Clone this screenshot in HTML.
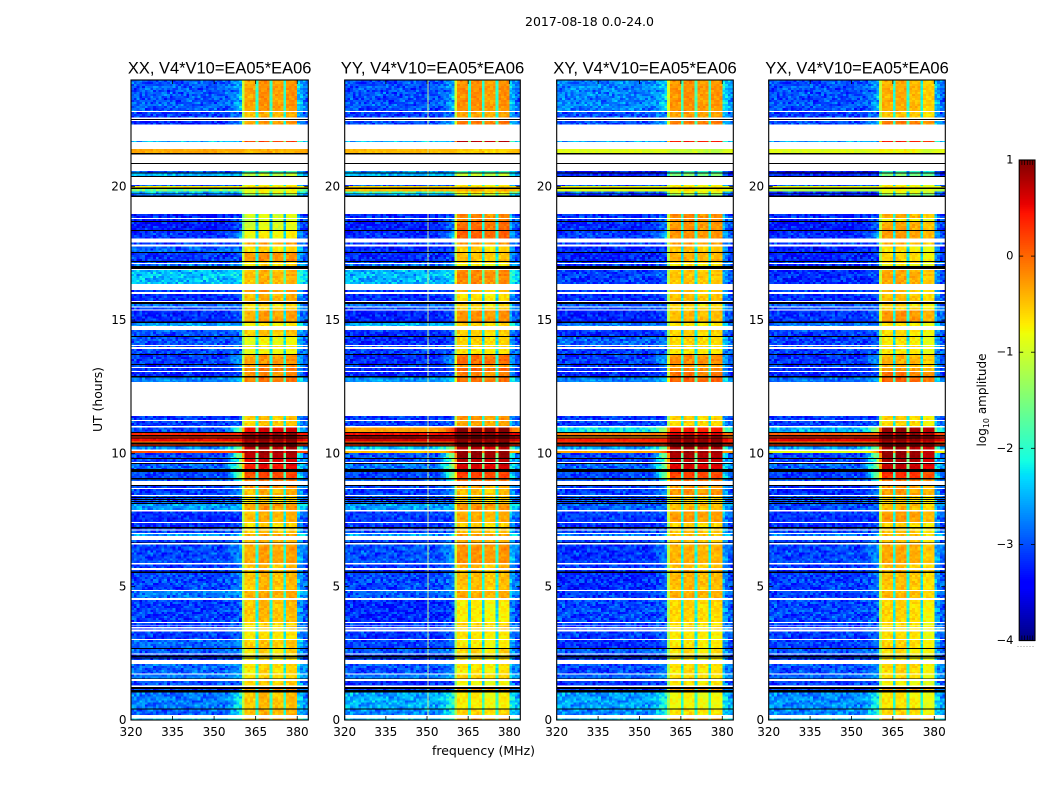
<!DOCTYPE html>
<html lang="en">
<head>
<meta charset="utf-8">
<title>2017-08-18 0.0-24.0</title>
<style>
html,body{margin:0;padding:0;background:#fff;width:1050px;height:800px;overflow:hidden}
svg{display:block}
text{font-family:"DejaVu Sans","Liberation Sans",sans-serif;fill:#000}
</style>
</head>
<body>
<svg id="figure" xmlns="http://www.w3.org/2000/svg" width="1050" height="800" viewBox="0 0 1050 800">
  <rect x="0" y="0" width="1050" height="800" fill="#fff"/>
  <text x="589.5" y="26" font-size="12.6" text-anchor="middle" textLength="129" lengthAdjust="spacingAndGlyphs">2017-08-18 0.0-24.0</text>
  <text x="483.5" y="755" font-size="12.6" text-anchor="middle" textLength="103" lengthAdjust="spacingAndGlyphs">frequency (MHz)</text>
  <text transform="translate(102,399.5) rotate(-90)" font-size="12.6" text-anchor="middle" textLength="65" lengthAdjust="spacingAndGlyphs">UT (hours)</text>
  <text transform="translate(986,400) rotate(-90)" font-size="12" text-anchor="middle">log<tspan font-size="8" dy="3">10</tspan><tspan dy="-3"> amplitude</tspan></text>
  <g id="panels"></g>
  <g id="colorbar"></g>
</svg>
<script>
// ---------- chart data ----------
const panelNames = ['XX', 'YY', 'XY', 'YX'];
const panelTitles = ['XX, V4*V10=EA05*EA06', 'YY, V4*V10=EA05*EA06', 'XY, V4*V10=EA05*EA06', 'YX, V4*V10=EA05*EA06'];
const freqTicks = [320, 335, 350, 365, 380];
const hourTicks = [0, 5, 10, 15, 20];
const colorTicks = [1, 0, -1, -2, -3, -4];
const colorTickLabels = ['1', '0', '\u22121', '\u22122', '\u22123', '\u22124'];
const freqMin = 320;
const freqMax = 384;
const hourMin = 0;
const hourMax = 24;
const levelMin = -4;
const levelMax = 1;

// Time rows: [top of row in UT hours, kind]. D = data, W = flagged (blank), K = black line
const rowEdges = [
[24,'D'],[22.84,'W'],[22.8,'D'],[22.59,'W'],[22.54,'K'],[22.5,'W'],[22.46,'D'],[22.33,'W'],[21.71,'D'],[21.68,'W'],
[21.41,'D'],[21.26,'K'],[21.2,'W'],[20.89,'K'],[20.85,'W'],[20.59,'D'],[20.53,'K'],[20.49,'D'],[20.4,'K'],[20.36,'W'],
[20.06,'D'],[20.03,'D'],[19.97,'K'],[19.91,'D'],[19.82,'D'],[19.75,'K'],[19.72,'D'],[19.66,'K'],[19.62,'W'],[18.98,'D'],
[18.82,'W'],[18.79,'D'],[18.71,'K'],[18.68,'D'],[18.38,'K'],[18.34,'D'],[18.05,'W'],[17.9,'D'],[17.84,'W'],[17.76,'D'],
[17.55,'K'],[17.51,'D'],[17.21,'K'],[17.18,'D'],[17.14,'W'],[17.1,'D'],[17.03,'K'],[16.91,'W'],[16.88,'D'],[16.35,'W'],
[16.13,'D'],[16.05,'W'],[15.98,'D'],[15.71,'W'],[15.68,'K'],[15.6,'D'],[15.5,'W'],[15.46,'D'],[15.39,'W'],[15.35,'D'],
[14.94,'K'],[14.88,'D'],[14.78,'W'],[14.63,'D'],[14.4,'K'],[14.36,'D'],[14.06,'W'],[14.03,'D'],[13.99,'W'],[13.92,'D'],
[13.73,'K'],[13.69,'D'],[13.35,'K'],[13.31,'D'],[13.24,'W'],[13.2,'D'],[13.09,'W'],[13.05,'D'],[12.9,'K'],[12.84,'D'],
[12.68,'W'],[11.4,'D'],[11.25,'W'],[11.21,'D'],[11.03,'W'],[10.96,'D'],[10.8,'K'],[10.76,'D'],[10.68,'K'],[10.64,'D'],
[10.59,'K'],[10.55,'D'],[10.44,'D'],[10.4,'K'],[10.34,'D'],[10.3,'K'],[10.26,'D'],[10.15,'W'],[10.09,'D'],[10.01,'D'],
[9.83,'K'],[9.79,'D'],[9.68,'W'],[9.64,'K'],[9.6,'D'],[9.41,'K'],[9.3,'D'],[9.08,'K'],[9.02,'D'],[8.97,'W'],
[8.81,'K'],[8.78,'D'],[8.7,'W'],[8.66,'D'],[8.44,'W'],[8.4,'D'],[8.36,'K'],[8.33,'D'],[8.29,'K'],[8.25,'D'],
[8.21,'K'],[8.18,'D'],[8.14,'K'],[8.1,'D'],[7.88,'W'],[7.81,'D'],[7.43,'W'],[7.39,'D'],[7.23,'K'],[7.19,'D'],
[7.15,'W'],[7.11,'D'],[7.01,'W'],[6.98,'D'],[6.9,'W'],[6.75,'D'],[6.66,'K'],[6.63,'W'],[6.59,'D'],[5.88,'W'],
[5.84,'D'],[5.7,'W'],[5.63,'D'],[5.56,'K'],[5.52,'D'],[4.88,'W'],[4.84,'D'],[4.58,'W'],[4.5,'D'],[3.68,'W'],
[3.64,'D'],[3.57,'W'],[3.54,'D'],[3.48,'W'],[3.44,'D'],[3.4,'W'],[3.32,'D'],[3.04,'W'],[3,'D'],[2.7,'K'],
[2.66,'D'],[2.5,'W'],[2.46,'D'],[2.41,'K'],[2.37,'D'],[2.35,'K'],[2.3,'D'],[2.25,'W'],[2.1,'D'],[1.75,'W'],
[1.71,'D'],[1.56,'K'],[1.53,'W'],[1.46,'D'],[1.29,'W'],[1.23,'K'],[1.17,'D'],[1.13,'K'],[1.04,'D'],[0.44,'K'],
[0.4,'D'],[0.19,'W'],[0.06,'D'],[0,'END']
];

// log10 amplitude outside the band, one value per data row
const offXX = [-2.95,-3.1,-3.2,-2.5,-.35,-2.9,-2.5,-3,-.7,-1.6,
-2.5,-2.8,-3.25,-3.25,-3.3,-3.15,-3.1,-2.9,-3.15,-3.1,
-2.8,-2.45,-3.1,-3.2,-2.8,-3.1,-3.2,-2.6,-3,-3,
-3,-3.05,-3.1,-3.1,-3.2,-3.2,-2.8,-3.1,-3.1,-3,
.35,.3,.5,-.2,.3,-2.7,.1,-3.1,-3.1,-2.9,
-3.05,-3,-3.1,-3.1,-3,-3,-3,-3,-2.6,-3.2,
-3.2,-3.1,-3.1,-2.6,-3.1,-3.05,-3.1,-3.2,-3.05,-2.8,
-3.1,-3.1,-3.1,-3.1,-3.1,-2.9,-2.95,-3.1,-3.1,-3.1,
-2.9,-2.8,-3,-3.1,-2.8,-2.9,-2.4];
const offYY = [-3,-3.1,-3,-2.5,-.45,-2.6,-2.5,-3,-.6,-.45,
-1.9,-2.6,-3.2,-3.2,-3.25,-3.2,-3.1,-3.2,-3.2,-3.1,
-2.8,-2.5,-3.1,-3.2,-2.8,-3.1,-3.25,-2.5,-3.2,-3.2,
-3,-3.1,-3.2,-3.1,-3.25,-3.2,-2.7,-3.1,-3.1,-.3,
.5,.55,.65,0,.3,-2.4,-.5,-3,-3,-2.8,
-3.05,-3,-3.1,-3.1,-3,-3,-3,-3,-2.6,-3.1,
-3.15,-3.1,-3.1,-2.6,-3.1,-3,-3.1,-3.2,-3.05,-2.95,
-3.2,-3.1,-3.1,-3.1,-3.15,-3.1,-2.95,-3.1,-3.1,-3.1,
-3,-2.8,-3.2,-3.1,-2.55,-2.7,-2.4];
const offXY = [-2.75,-3,-3,-2.6,-.9,-3.3,-3.2,-3,-.8,-.9,
-2.9,-3.2,-3.15,-3.2,-3.2,-3.1,-3.1,-3.2,-3.25,-3.1,
-3.1,-3.1,-3.1,-3.2,-2.9,-3.1,-3.25,-2.8,-3.2,-2.9,
-3,-3.1,-3.1,-3.1,-3.2,-3.2,-2.8,-3.1,-3.1,-2.2,
-.1,-.3,.4,.2,.3,-2.6,-.35,-3.1,-3.1,-2.9,
-3.05,-3,-3.1,-3.1,-3,-3,-3,-3,-2.9,-3.1,
-3.2,-3.1,-3.1,-2.8,-3.1,-3.15,-3.1,-3.2,-3.2,-3.1,
-3.05,-3.1,-3.1,-3.1,-3.1,-3.2,-2.95,-3.1,-3.1,-3.1,
-3.05,-2.9,-3.15,-3.1,-2.6,-2.7,-2.4];
const offYX = [-3,-3.1,-3,-2.6,-.9,-3.4,-3.2,-3,-.8,-1.2,
-3.2,-3.2,-3.2,-3.3,-3.3,-3.2,-3.1,-3.25,-3.25,-3.1,
-3.2,-3.2,-3.1,-3.2,-2.9,-3.1,-3.15,-2.8,-3.1,-3.1,
-3,-3.1,-3.15,-3.1,-3.2,-3.2,-2.9,-3.1,-3.1,-2.5,
.05,.3,.55,-.1,.3,-2.6,-.9,-3.1,-3.1,-2.9,
-3.1,-3,-3.2,-3.2,-3,-3,-3,-3,-3,-3.15,
-3.2,-3.1,-3.1,-2.8,-3.1,-3.05,-3.1,-3.2,-3.1,-3.1,
-3.05,-3.1,-3.1,-3.1,-3.1,-3.1,-2.95,-3.1,-3.1,-3.1,
-3,-2.9,-3.1,-3.1,-2.7,-2.7,-2.4];

// log10 amplitude inside the 360-380 MHz band, one value per data row
const bandXX = [-.25,-.4,-.25,.2,-.4,-1.8,-1.1,-.8,-.6,-.8,
-.8,-1.4,-.9,-1,-.9,-.75,-.3,-.6,-.2,-.6,
-.6,-.4,-.25,-.4,-.6,-.6,-.3,-.7,-.5,-.8,
-.6,-.8,-.25,-.2,-.1,-.2,-.1,-.5,-.5,.6,
.95,.9,1,.7,.95,.8,.9,.8,.6,.5,
.2,-.1,-.2,-.4,-.6,-.6,-.6,-.6,-.25,-.4,
-.6,-.6,-.5,-.3,-.4,-.3,-.45,-.4,-.45,-.35,
-.45,-.6,-.6,-.6,-.65,-.5,-.6,-.7,-.7,-.7,
-.6,-.6,-.55,-.2,-.45,-.4,-.3];
const bandYY = [-.25,-.35,-.1,.7,-.6,-1.8,-1.1,-.8,-.6,-.4,
-.7,-1.1,-.2,-.2,-.05,0,-.3,-.6,-.5,-.6,
-.8,-.2,-.5,-.7,-.6,-.6,-.25,-.6,-.6,-.6,
-.6,-.7,-.05,-.3,0,-.2,-.1,-.3,-.35,1,
1,1,1,.9,.95,.7,.9,.9,.7,.6,
.2,-.1,-.4,-.5,-.6,-.6,-.6,-.6,-.25,-.4,
-.6,-.6,-.5,-.3,-.4,-.25,-.45,-.5,-.5,-.4,
-.75,-.6,-.6,-.6,-.7,-.75,-.6,-.7,-.7,-.7,
-.7,-.6,-.85,-.3,-.75,-.6,-.3];
const bandXY = [-.25,-.3,-.1,.4,-1.1,-1.9,-1.5,-.8,-.7,-.7,
-.9,-1.4,-.2,-.2,-.25,-.25,-.3,-.5,-.4,-.6,
-.7,-.5,-.5,-.5,-.6,-.6,-.45,-.7,-.6,-.6,
-.6,-.7,-.2,-.3,-.2,-.1,0,-.6,-.6,.4,
.6,.6,1,.9,.95,.8,.9,.8,.7,.6,
.2,-.1,-.3,-.25,-.6,-.6,-.6,-.6,-.45,-.3,
-.6,-.6,-.5,-.45,-.5,-.4,-.5,-.4,-.45,-.4,
-.6,-.65,-.65,-.65,-.7,-.7,-.65,-.75,-.75,-.75,
-.65,-.65,-.7,-.3,-.8,-.65,-.3];
const bandYX = [-.4,-.5,-.1,.4,-.8,-1.9,-1.5,-.8,-.7,-.8,
-.9,-1.4,-.4,-.8,-.35,-.3,-.4,-.7,-.6,-.6,
-.8,-.35,-.5,-.5,-.6,-.6,-.25,-.7,-.65,-.7,
-.6,-.7,-.4,-.4,-.3,-.1,0,-.6,-.6,.9,
.95,.95,1,.7,.95,.8,.9,.9,.8,.7,
.3,-.1,-.3,-.3,-.6,-.6,-.6,-.6,-.45,-.3,
-.6,-.6,-.5,-.45,-.5,-.35,-.5,-.4,-.5,-.45,
-.6,-.65,-.65,-.65,-.65,-.6,-.65,-.75,-.75,-.75,
-.6,-.65,-.8,-.3,-.7,-.6,-.3];

// Strength of the leakage just below the band, one value per data row
const shoulderRows = [.4,.2,.3,0,0,0,0,0,0,0,
0,0,.2,.3,.4,.5,.1,.1,.1,.1,
.1,.1,.1,.1,.1,.1,.2,.1,.1,.1,
.1,.1,.4,.3,.2,.2,.2,.2,.2,.9,
0,0,0,0,0,.9,.9,1,1,1,
1.1,.7,.3,.3,.1,.1,.1,.1,.1,.1,
.1,.1,.1,.1,.2,.3,.3,.2,.3,.3,
.1,.1,.1,.1,.2,.2,.2,.1,.1,.1,
.3,.4,.2,0,.7,.7,.4];

// Band response by channel (0 = outside band, 1 = inside), 64 one-MHz channels from 320 MHz
const channelWeights = [0,0,0,0,0,0,0,0,0,0, 0,0,0,0,0,0,0,0,0,0,
0,0,0,0,0,0,0,0,0,0, 0,0,0,0,.04,.08,.14,.22,.32,.42,
.72,1,1,1,1,.36,1,1,1,1, .38,1,1,1,1,.36,1,1,1,1,
.2,.14,.08,.04];

// Level trim of the four sub-bands (360-365, 365-370, 370-375, 375-380 MHz)
const subbandXX = [-.08,.04,-.05,.02];
const subbandYY = [.04,.04,-.04,.04];
const subbandXY = [0,.04,-.02,0];
const subbandYX = [.02,.04,-.02,-.16];

// Hand-set speckle residuals that give the cells their grain
const speckleA = [.12,-.2,.05,.22,-.1,-.24,.16,.02,-.14,.25,-.06,.09,-.22,.18,-.02,-.16,.2,.07,-.26,.11,-.09,.24,-.04,-.18,.14,.03,-.12,.21,-.2,.06,.17,-.24,.01,.13,-.08,.19,-.15];
const speckleB = [-.1,.14,.03,-.16,.18,-.04,.08,-.2,.12,.0,-.12,.2,-.07,.05,-.18,.16,-.02,.1,-.14,.06,.17,-.09,.02];

// Narrow interference line seen in YY only
const spikeChannelYY = [350.1];

// ---------- helpers ----------
const SVG_NS = 'http://www.w3.org/2000/svg';
const panelFrames = [[131, 308.3], [344.7, 520.3], [556.7, 733.3], [768.7, 945.3]];
const plotTop = 80;
const plotBottom = 720;
const offByPanel = [offXX, offYY, offXY, offYX];
const bandByPanel = [bandXX, bandYY, bandXY, bandYX];
const subbandByPanel = [subbandXX, subbandYY, subbandXY, subbandYX];
const spikesByPanel = [[], spikeChannelYY, [], []];

function yScale(h) {
  return plotBottom - (h - hourMin) / (hourMax - hourMin) * (plotBottom - plotTop);
}
function makeXScale(left, right) {
  return function (f) { return left + (f - freqMin) / (freqMax - freqMin) * (right - left); };
}
function interp(pts, n) {
  for (let i = 1; i < pts.length; i++) {
    if (n <= pts[i][0]) {
      const a = pts[i - 1], b = pts[i];
      return a[1] + (b[1] - a[1]) * (n - a[0]) / (b[0] - a[0]);
    }
  }
  return pts[pts.length - 1][1];
}
const jetR = [[0,0],[.35,0],[.66,1],[.89,1],[1,.5]];
const jetG = [[0,0],[.125,0],[.375,1],[.64,1],[.91,0],[1,0]];
const jetB = [[0,.5],[.11,1],[.34,1],[.65,0],[1,0]];
function jetColor(v) {
  const n = Math.max(0, Math.min(1, (v - levelMin) / (levelMax - levelMin)));
  const r = Math.round(255 * interp(jetR, n));
  const g = Math.round(255 * interp(jetG, n));
  const b = Math.round(255 * interp(jetB, n));
  return 'rgb(' + r + ',' + g + ',' + b + ')';
}
function channelValue(panel, dataRow, ch, r) {
  const off = offByPanel[panel][dataRow];
  const band = bandByPanel[panel][dataRow];
  let w = channelWeights[ch];
  let grain = speckleA[(ch * 7 + r * r * 3) % 37] + speckleB[(ch * ch * 5 + r * 11) % 23];
  let target = band;
  if (ch >= 40 && ch < 60) {
    target = band + subbandByPanel[panel][Math.floor((ch - 40) / 5)];
    grain *= band > 0.3 ? 0.2 : 0.4;
  } else {
    if (ch >= 34 && ch < 40) {
      w = w * shoulderRows[dataRow];
    }
    if (off > -1.5) {
      grain *= 0.25;
    }
  }
  return off + (target - off) * w + grain;
}

// ---------- panels ----------
const panelsRoot = document.getElementById('panels');
panelNames.forEach(function (name, p) {
  const left = panelFrames[p][0];
  const right = panelFrames[p][1];
  const xScale = makeXScale(left, right);
  const g = document.createElementNS(SVG_NS, 'g');
  
  
  panelsRoot.appendChild(g);

  const heat = document.createElementNS(SVG_NS, 'g');
  
  
  heat.setAttribute('shape-rendering', 'crispEdges');
  g.appendChild(heat);

  let dataRow = 0;
  let rowCounter = 0;
  const hourStep = 0.075;
  for (let e = 0; e < rowEdges.length - 1; e++) {
    const topHour = rowEdges[e][0];
    const bottomHour = rowEdges[e + 1][0];
    const kind = rowEdges[e][1];
    if (kind === 'K') {
      const line = document.createElementNS(SVG_NS, 'rect');
      
      
      line.setAttribute('x', left);
      line.setAttribute('y', yScale(topHour));
      line.setAttribute('width', right - left);
      line.setAttribute('height', yScale(bottomHour) - yScale(topHour));
      line.setAttribute('fill', '#000');
      heat.appendChild(line);
    } else if (kind === 'D') {
      for (let h = topHour; h > bottomHour + 1e-6; h -= hourStep) {
        const lower = Math.max(bottomHour, h - hourStep);
        for (let ch = 0; ch < channelWeights.length; ch++) {
          const cell = document.createElementNS(SVG_NS, 'rect');
          
          
          cell.setAttribute('x', xScale(freqMin + ch).toFixed(2));
          cell.setAttribute('y', yScale(h).toFixed(2));
          cell.setAttribute('width', (xScale(freqMin + ch + 1) - xScale(freqMin + ch)).toFixed(2));
          cell.setAttribute('height', (yScale(lower) - yScale(h)).toFixed(2));
          cell.setAttribute('fill', jetColor(channelValue(p, dataRow, ch, rowCounter)));
          heat.appendChild(cell);
        }
        rowCounter++;
      }
      spikesByPanel[p].forEach(function (f) {
        const spike = document.createElementNS(SVG_NS, 'rect');
        
        
        spike.setAttribute('x', xScale(f));
        spike.setAttribute('y', yScale(topHour));
        spike.setAttribute('width', 1);
        spike.setAttribute('height', yScale(bottomHour) - yScale(topHour));
        spike.setAttribute('fill', '#c8f08c');
        heat.appendChild(spike);
      });
      dataRow++;
    }
  }

  const frame = document.createElementNS(SVG_NS, 'rect');
  
  
  frame.setAttribute('x', left);
  frame.setAttribute('y', plotTop);
  frame.setAttribute('width', right - left);
  frame.setAttribute('height', plotBottom - plotTop);
  frame.setAttribute('fill', 'none');
  frame.setAttribute('stroke', '#000');
  frame.setAttribute('stroke-width', '1.1');
  g.appendChild(frame);

  freqTicks.forEach(function (f) {
    const x = xScale(f);
    [[plotTop, plotTop + 4], [plotBottom, plotBottom - 4]].forEach(function (seg) {
      const t = document.createElementNS(SVG_NS, 'line');
      
      
      t.setAttribute('x1', x);
      t.setAttribute('x2', x);
      t.setAttribute('y1', seg[0]);
      t.setAttribute('y2', seg[1]);
      t.setAttribute('stroke', '#000');
      t.setAttribute('stroke-width', '0.8');
      g.appendChild(t);
    });
    const label = document.createElementNS(SVG_NS, 'text');
    
    
    label.setAttribute('x', x);
    label.setAttribute('y', 736);
    label.setAttribute('font-size', '12');
    label.setAttribute('text-anchor', 'middle');
    label.textContent = String(f);
    g.appendChild(label);
  });

  hourTicks.forEach(function (h) {
    const y = yScale(h);
    [[left, left + 4], [right, right - 4]].forEach(function (seg) {
      const t = document.createElementNS(SVG_NS, 'line');
      
      
      t.setAttribute('x1', seg[0]);
      t.setAttribute('x2', seg[1]);
      t.setAttribute('y1', y);
      t.setAttribute('y2', y);
      t.setAttribute('stroke', '#000');
      t.setAttribute('stroke-width', '0.8');
      g.appendChild(t);
    });
    const label = document.createElementNS(SVG_NS, 'text');
    
    
    label.setAttribute('x', left - 4.5);
    label.setAttribute('y', y + 4);
    label.setAttribute('font-size', '12');
    label.setAttribute('text-anchor', 'end');
    label.textContent = String(h);
    g.appendChild(label);
  });

  const title = document.createElementNS(SVG_NS, 'text');
  
  
  title.setAttribute('x', (left + right) / 2);
  title.setAttribute('y', 73.5);
  title.setAttribute('font-size', '16.5');
  title.setAttribute('style', 'font-family:"Liberation Sans",sans-serif');
  title.setAttribute('text-anchor', 'middle');
  title.setAttribute('textLength', '183.5');
  title.setAttribute('lengthAdjust', 'spacingAndGlyphs');
  title.textContent = panelTitles[p];
  g.appendChild(title);
});

// ---------- colorbar ----------
const barRoot = document.getElementById('colorbar');
const barLeft = 1019.2;
const barRight = 1035;
const barTop = 160;
const barBottom = 640.5;
function barY(v) {
  return barBottom - (v - levelMin) / (levelMax - levelMin) * (barBottom - barTop);
}
const barSteps = 240;
for (let i = 0; i < barSteps; i++) {
  const v0 = levelMin + (levelMax - levelMin) * i / barSteps;
  const v1 = levelMin + (levelMax - levelMin) * (i + 1) / barSteps;
  const s = document.createElementNS(SVG_NS, 'rect');
  
  
  s.setAttribute('x', barLeft);
  s.setAttribute('y', barY(v1).toFixed(2));
  s.setAttribute('width', barRight - barLeft);
  s.setAttribute('height', (barY(v0) - barY(v1) + 0.6).toFixed(2));
  s.setAttribute('fill', jetColor((v0 + v1) / 2));
  barRoot.appendChild(s);
}
const barFrame = document.createElementNS(SVG_NS, 'rect');


barFrame.setAttribute('x', barLeft);
barFrame.setAttribute('y', barTop);
barFrame.setAttribute('width', barRight - barLeft);
barFrame.setAttribute('height', barBottom - barTop);
barFrame.setAttribute('fill', 'none');
barFrame.setAttribute('stroke', '#000');
barFrame.setAttribute('stroke-width', '1.1');
barRoot.appendChild(barFrame);

colorTicks.forEach(function (v, i) {
  const y = barY(v);
  [[barLeft, barLeft + 4], [barRight, barRight - 4]].forEach(function (seg) {
    const t = document.createElementNS(SVG_NS, 'line');
    
    
    t.setAttribute('x1', seg[0]);
    t.setAttribute('x2', seg[1]);
    t.setAttribute('y1', y);
    t.setAttribute('y2', y);
    t.setAttribute('stroke', '#000');
    t.setAttribute('stroke-width', '0.8');
    barRoot.appendChild(t);
  });
  const label = document.createElementNS(SVG_NS, 'text');
  
  
  label.setAttribute('x', 1013.5);
  label.setAttribute('y', y + 3.5);
  label.setAttribute('font-size', '11.5');
  label.setAttribute('text-anchor', 'end');
  label.textContent = colorTickLabels[i];
  barRoot.appendChild(label);
});

// minor colorbar ticks at the two ends, plus the faint dotted residue under the bar
const minorTickOffsets = [2.7, 5.4, 8.1, 10.8, 13.5];
minorTickOffsets.forEach(function (dx) {
  [[barTop, barTop + 5], [barBottom, barBottom - 5]].forEach(function (seg) {
    const m = document.createElementNS(SVG_NS, 'line');
    
    
    m.setAttribute('x1', barLeft + dx);
    m.setAttribute('x2', barLeft + dx);
    m.setAttribute('y1', seg[0]);
    m.setAttribute('y2', seg[1]);
    m.setAttribute('stroke', '#000');
    m.setAttribute('stroke-width', '0.7');
    barRoot.appendChild(m);
  });
});
const dots = document.createElementNS(SVG_NS, 'line');


dots.setAttribute('x1', 1017.5);
dots.setAttribute('x2', 1035);
dots.setAttribute('y1', 646.5);
dots.setAttribute('y2', 646.5);
dots.setAttribute('stroke', '#999');
dots.setAttribute('stroke-width', '1');
dots.setAttribute('stroke-dasharray', '1 2');
barRoot.appendChild(dots);
</script>
</body>
</html>
